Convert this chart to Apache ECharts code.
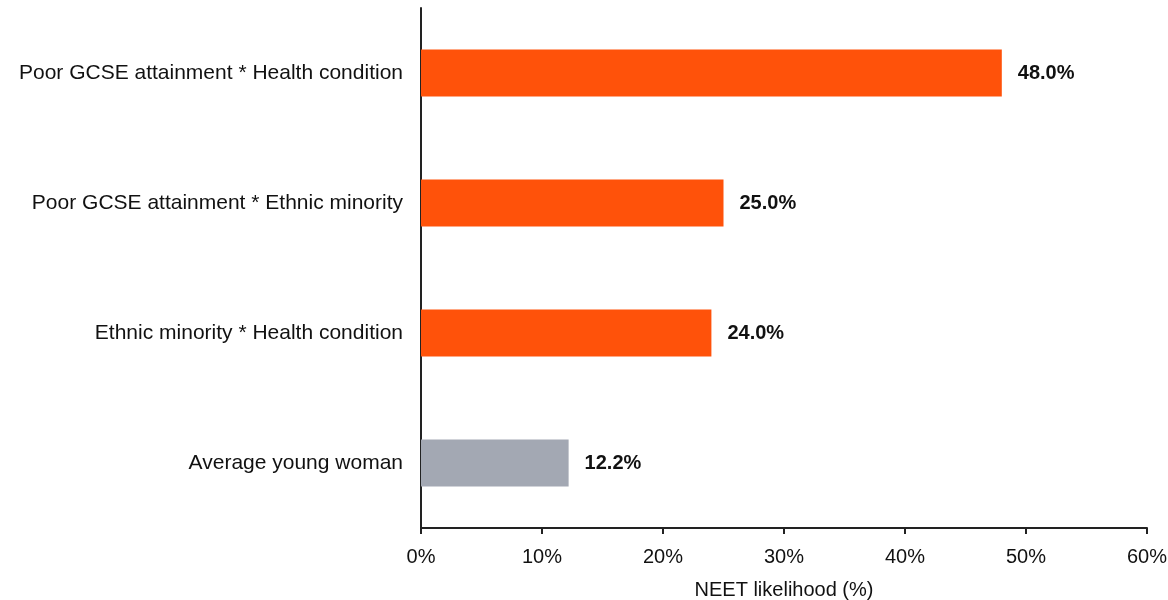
<!DOCTYPE html>
<html><head><meta charset="utf-8">
<script src="https://cdn.jsdelivr.net/npm/echarts@6/dist/echarts.min.js"></script>
<style>html,body{margin:0;padding:0;background:#fff}#c{width:1168px;height:600px}</style>
</head><body><div id="c"></div>
<script>
const categories = ["Average young woman","Ethnic minority * Health condition","Poor GCSE attainment * Ethnic minority","Poor GCSE attainment * Health condition"];
const values = [12.2, 24.0, 25.0, 48.0];
const barColors = ["#A3A8B3","#FF520A","#FF520A","#FF520A"];
const xTicks = [0,10,20,30,40,50,60];

const chart = echarts.init(document.getElementById('c'));
chart.setOption({
  animation:false,
  textStyle:{fontFamily:'Liberation Sans, Arial, sans-serif'},
  grid:{left:421,right:21,top:8,bottom:72,containLabel:false,outerBoundsMode:'none'},
  xAxis:{type:'value',min:xTicks[0],max:xTicks[xTicks.length-1],interval:10,
    name:'NEET likelihood (%)',nameLocation:'middle',nameGap:52,
    nameTextStyle:{fontSize:20,color:'#111',fontFamily:'Liberation Sans, Arial, sans-serif'},
    axisLine:{show:true,lineStyle:{color:'#222',width:2}},
    axisTick:{show:true,length:6,lineStyle:{color:'#222',width:2}},
    axisLabel:{formatter:'{value}%',fontSize:20,color:'#111',margin:19},
    splitLine:{show:false}},
  yAxis:{type:'category',data:categories,
    axisLine:{show:true,lineStyle:{color:'#222',width:2}},
    axisTick:{show:false},
    axisLabel:{fontSize:21,color:'#111',margin:18}},
  series:[{type:'bar',barWidth:47,
    data:values.map((v,i)=>({value:v,itemStyle:{color:barColors[i]}})),
    label:{show:true,position:'right',distance:16,fontSize:20,fontWeight:'bold',color:'#111',
      formatter:p=>p.value.toFixed(1)+'%'}}]
});
</script></body></html>
